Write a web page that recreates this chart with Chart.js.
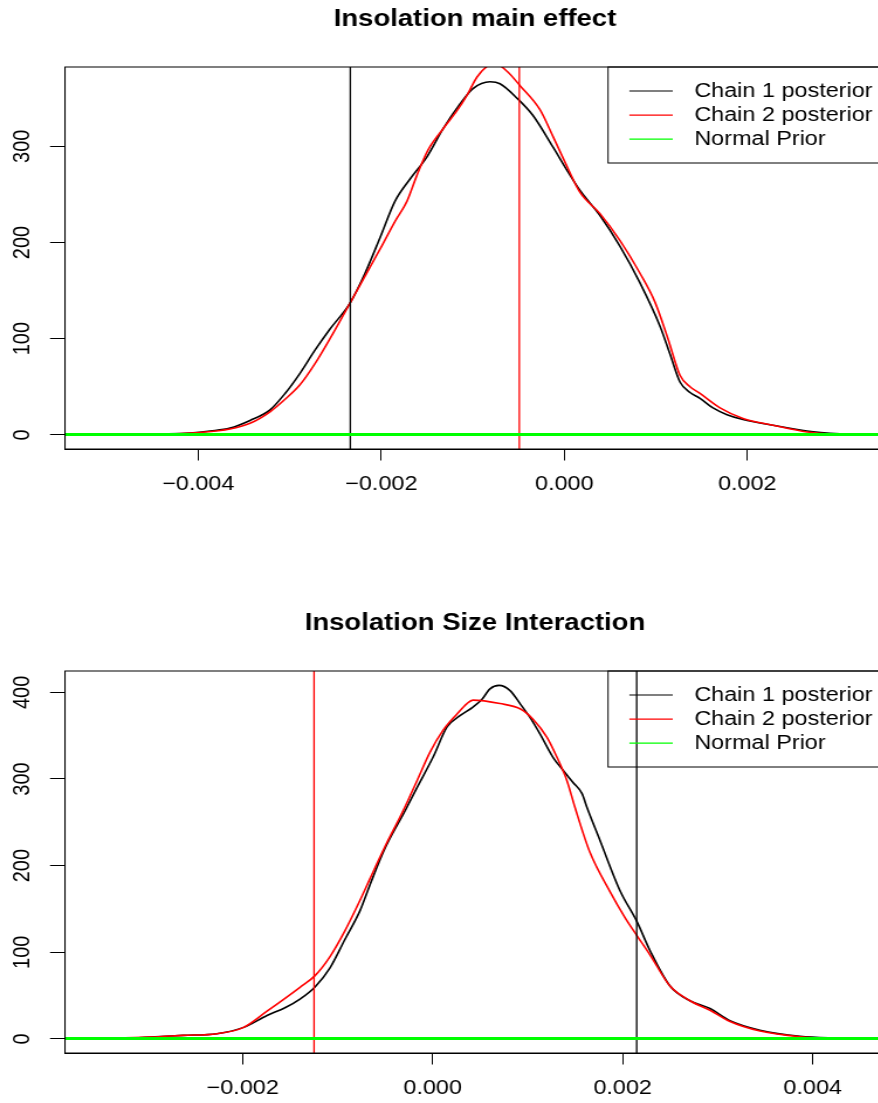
<!DOCTYPE html>
<html>
<head>
<meta charset="utf-8">
<script src="https://cdn.jsdelivr.net/npm/chart.js@4.4.1/dist/chart.umd.min.js"></script>
<style>
  html, body { margin: 0; padding: 0; background: #fff; overflow: hidden; width: 878px; height: 1103px; }
  /* each panel is drawn on a narrower canvas and widened horizontally */
  .panel { position: absolute; left: 0; transform: scaleX(1.17); transform-origin: 0 0; }
  canvas { display: block; }
</style>
</head>
<body>
<div class="panel" style="top:0px"><canvas id="mainEffect" width="770" height="499"></canvas></div>
<div class="panel" style="top:604px"><canvas id="sizeInteraction" width="770" height="499"></canvas></div>
<script>
// ---- legend ----
const legendLabels = ['Chain 1 posterior', 'Chain 2 posterior', 'Normal Prior'];
const legendColors = ['#000000', '#ff0000', '#00ff00'];

// ---- Insolation main effect ----
const mainTitle = 'Insolation main effect';
const mainXTicks = [-0.004, -0.002, 0, 0.002];
const mainYTicks = [0, 100, 200, 300];
const mainXRange = [-0.005457, 0.003505];
const mainYRange = [-14.7, 382.4];
const mainChain1X = [-0.005131,-0.004748,-0.004419,-0.004091,-0.003872,-0.003654,-0.003435,-0.003216,-0.003052,-0.002889,-0.002725,-0.002561,-0.002342,-0.002178,-0.002014,-0.001850,-0.001686,-0.001501,-0.001326,-0.001140,-0.000998,-0.000812,-0.000703,-0.000517,-0.000342,-0.000123,0.000030,0.000172,0.000390,0.000609,0.000827,0.001046,0.001155,0.001264,0.001374,0.001483,0.001625,0.001778,0.001953,0.002281,0.002653,0.003013,0.003177];
const mainChain1Y = [0,0.3,1,2,4,7,15,26,43,64,88,110,137,168,205,243,266,289,318,344,360,367,365,350,332,299,275,254,228,196,158,113,84,55,44,38,28,21,16,10,4,1,0.3];
const mainChain2X = [-0.005131,-0.004530,-0.003982,-0.003654,-0.003435,-0.003216,-0.003052,-0.002889,-0.002725,-0.002561,-0.002342,-0.002178,-0.002014,-0.001850,-0.001719,-0.001610,-0.001490,-0.001326,-0.001173,-0.001064,-0.000954,-0.000845,-0.000757,-0.000626,-0.000484,-0.000266,-0.000123,0.000030,0.000172,0.000390,0.000609,0.000827,0.000991,0.001133,0.001264,0.001374,0.001483,0.001702,0.001953,0.002281,0.002653,0.003013,0.003286];
const mainChain2Y = [0,0.5,2.5,6,12,24,37,52,74,100,137,165,193,222,243,270,296,318,337,353,372,383,386,378,363,338,310,279,252,230,202,168,138,100,62,50,43,28,17,10,3,0.6,0];
const mainPriorX = [-0.005457, 0.003505];
const mainPriorY = [0.4, 0.4];
const mainChain1Line = -0.002339;
const mainChain2Line = -0.000492;

// ---- Insolation Size Interaction ----
const sizeTitle = 'Insolation Size Interaction';
const sizeXTicks = [-0.002, 0, 0.002, 0.004];
const sizeYTicks = [0, 100, 200, 300, 400];
const sizeXRange = [-0.0038705, 0.004761];
const sizeYRange = [-16.3, 424.6];
const sizeChain1X = [-0.003555,-0.003397,-0.002976,-0.002628,-0.002271,-0.001997,-0.001744,-0.001555,-0.001397,-0.001239,-0.001081,-0.000923,-0.000765,-0.000660,-0.000502,-0.000292,-0.000165,0.000003,0.000151,0.000287,0.000424,0.000519,0.000603,0.000698,0.000814,0.000919,0.001024,0.001129,0.001266,0.001372,0.001477,0.001572,0.001624,0.001761,0.001972,0.002151,0.002287,0.002498,0.002708,0.002919,0.003129,0.003445,0.003866,0.004287,0.004498];
const sizeChain1Y = [0,0,2,4,6,13,27,36,46,60,82,115,148,178,220,263,290,325,360,373,383,392,404,408,402,387,371,352,325,310,296,283,267,229,171,135,102,61,44,35,21,10,3,1,0.3];
const sizeChain2X = [-0.003555,-0.002976,-0.002628,-0.002271,-0.001997,-0.001744,-0.001397,-0.001239,-0.001081,-0.000923,-0.000765,-0.000660,-0.000502,-0.000313,-0.000165,-0.000028,0.000108,0.000256,0.000361,0.000424,0.000708,0.000919,0.001056,0.001203,0.001308,0.001413,0.001498,0.001656,0.001866,0.002024,0.002151,0.002287,0.002498,0.002708,0.002919,0.003129,0.003445,0.003866,0.004287,0.004603];
const sizeChain2Y = [0,2,4,6,13,32,59.5,73,95,125,160,185,222,263,298,331,356,375,387,391,387,381,369,348,325,298,267,215,170,140,119,97,61,44,33,20,9,2.5,0.5,0];
const sizePriorX = [-0.0038705, 0.004761];
const sizePriorY = [0.4, 0.4];
const sizeChain1Line = 0.002147;
const sizeChain2Line = -0.001249;

const FONT = '"Liberation Sans", Arial, Helvetica, sans-serif';

function zip(xs, ys) { return xs.map((x, i) => ({ x: x, y: ys[i] })); }

function fmtX(v) {
  if (Math.abs(v) < 1e-12) return '0.000';
  return (v < 0 ? '\u2212' : '') + Math.abs(v).toFixed(3);
}

function drawPanel(id, p) {
  const frameTitleKey = {
    id: 'frameTitleKey',
    afterDraw(chart) {
      const ctx = chart.ctx, a = chart.chartArea;
      ctx.save();
      // plot box
      ctx.strokeStyle = '#000';
      ctx.lineWidth = 1;
      ctx.strokeRect(a.left, a.top, a.right - a.left, a.bottom - a.top);
      // title
      ctx.fillStyle = '#000';
      ctx.font = 'bold 23.5px ' + FONT;
      ctx.textAlign = 'center';
      ctx.textBaseline = 'alphabetic';
      ctx.fillText(p.title, (a.left + a.right) / 2, 26);
      // legend box in the top right corner
      const bx = 519.7, by = a.top, bh = 96;
      ctx.strokeStyle = '#000';
      ctx.strokeRect(bx, by, a.right + 20 - bx, bh);
      ctx.font = '20px ' + FONT;
      ctx.textAlign = 'left';
      ctx.textBaseline = 'middle';
      legendLabels.forEach((lab, i) => {
        const y = by + 24 + i * 24.1;
        ctx.strokeStyle = legendColors[i];
        ctx.lineWidth = 1.2;
        ctx.beginPath();
        ctx.moveTo(537.9, y);
        ctx.lineTo(575, y);
        ctx.stroke();
        ctx.fillStyle = '#000';
        ctx.fillText(lab, 593.4, y);
      });
      ctx.restore();
    }
  };

  const yMin = p.yRange[0], yMax = p.yRange[1];
  return new Chart(document.getElementById(id), {
    type: 'line',
    data: {
      datasets: [
        { label: legendLabels[0], data: zip(p.c1x, p.c1y), borderColor: legendColors[0], borderWidth: 1.6, order: 3 },
        { label: legendLabels[1], data: zip(p.c2x, p.c2y), borderColor: legendColors[1], borderWidth: 1.6, order: 2 },
        { label: legendLabels[2], data: zip(p.px, p.py), borderColor: legendColors[2], borderWidth: 3, order: 0 },
        { data: [{ x: p.l1, y: yMin - 50 }, { x: p.l1, y: yMax + 50 }], borderColor: legendColors[0], borderWidth: 1.3, order: 1 },
        { data: [{ x: p.l2, y: yMin - 50 }, { x: p.l2, y: yMax + 50 }], borderColor: legendColors[1], borderWidth: 1.3, order: 1 }
      ]
    },
    options: {
      responsive: false,
      animation: false,
      devicePixelRatio: 1,
      layout: { padding: { top: 67, right: 13.6, bottom: 0, left: 0 } },
      elements: {
        point: { radius: 0 },
        line: { cubicInterpolationMode: 'monotone', fill: false }
      },
      plugins: { legend: { display: false }, tooltip: { enabled: false }, title: { display: false } },
      scales: {
        x: {
          type: 'linear',
          min: p.xRange[0],
          max: p.xRange[1],
          afterBuildTicks: s => { s.ticks = p.xTicks.map(v => ({ value: v })); },
          afterFit: s => { s.height = 50; },
          grid: { drawOnChartArea: false, drawTicks: true, tickLength: 11.5, tickColor: '#000', color: '#000', tickWidth: 1 },
          border: { display: true, color: '#000', width: 1 },
          ticks: { color: '#000', font: { family: FONT, size: 20 }, padding: 12.3, minRotation: 0, maxRotation: 0, autoSkip: false, callback: fmtX }
        },
        y: {
          type: 'linear',
          min: yMin,
          max: yMax,
          afterBuildTicks: s => { s.ticks = p.yTicks.map(v => ({ value: v })); },
          afterFit: s => { s.width = 55.56; },
          grid: { drawOnChartArea: false, drawTicks: true, tickLength: 12.8, tickColor: '#000', color: '#000', tickWidth: 1 },
          border: { display: true, color: '#000', width: 1 },
          ticks: { color: '#000', font: { family: FONT, size: 20 }, padding: 6.4, minRotation: 90, maxRotation: 90, crossAlign: 'center', autoSkip: false, callback: v => String(v) }
        }
      }
    },
    plugins: [frameTitleKey]
  });
}

drawPanel('mainEffect', {
  title: mainTitle, xTicks: mainXTicks, yTicks: mainYTicks, xRange: mainXRange, yRange: mainYRange,
  c1x: mainChain1X, c1y: mainChain1Y, c2x: mainChain2X, c2y: mainChain2Y,
  px: mainPriorX, py: mainPriorY, l1: mainChain1Line, l2: mainChain2Line
});
drawPanel('sizeInteraction', {
  title: sizeTitle, xTicks: sizeXTicks, yTicks: sizeYTicks, xRange: sizeXRange, yRange: sizeYRange,
  c1x: sizeChain1X, c1y: sizeChain1Y, c2x: sizeChain2X, c2y: sizeChain2Y,
  px: sizePriorX, py: sizePriorY, l1: sizeChain1Line, l2: sizeChain2Line
});
</script>
</body>
</html>
